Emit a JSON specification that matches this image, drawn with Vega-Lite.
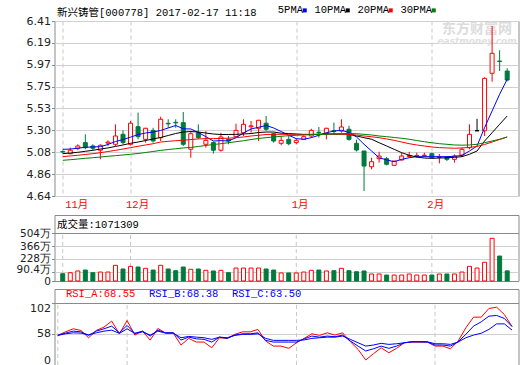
{
  "$schema": "https://vega.github.io/schema/vega-lite/v6.json",
  "background": "white",
  "padding": {"left": 15.5, "top": 4, "right": 0, "bottom": 0},
  "datasets": {
    "mo": [{"i": 0, "m": "11月"}, {"i": 9, "m": "12月"}, {"i": 31, "m": "1月"}, {"i": 49, "m": "2月"}],
    "k": [
      {"i":0,"d":"2016-11-18","o":5.09,"h":5.10,"l":5.07,"c":5.085,"v":77,"m5":5.112,"m10":5.068,"m20":5.038,"m30":5.001,"ra":56.0,"rb":56.0,"rc":56.0},
      {"i":1,"d":"2016-11-21","o":5.068,"h":5.129,"l":5.062,"c":5.103,"v":88,"m5":5.115,"m10":5.075,"m20":5.045,"m30":5.007,"ra":61.0,"rb":59.2,"rc":58.2},
      {"i":2,"d":"2016-11-22","o":5.123,"h":5.163,"l":5.103,"c":5.146,"v":106,"m5":5.123,"m10":5.082,"m20":5.052,"m30":5.014,"ra":65.3,"rb":62.0,"rc":59.6},
      {"i":3,"d":"2016-11-23","o":5.18,"h":5.264,"l":5.113,"c":5.129,"v":116,"m5":5.133,"m10":5.092,"m20":5.06,"m30":5.021,"ra":63.0,"rb":61.0,"rc":59.2},
      {"i":4,"d":"2016-11-24","o":5.146,"h":5.163,"l":5.103,"c":5.123,"v":88,"m5":5.136,"m10":5.102,"m20":5.068,"m30":5.027,"ra":52.6,"rb":56.0,"rc":56.8},
      {"i":5,"d":"2016-11-25","o":5.103,"h":5.163,"l":5.011,"c":5.153,"v":95,"m5":5.139,"m10":5.115,"m20":5.078,"m30":5.034,"ra":63.0,"rb":62.0,"rc":59.6},
      {"i":6,"d":"2016-11-28","o":5.175,"h":5.203,"l":5.146,"c":5.185,"v":95,"m5":5.161,"m10":5.126,"m20":5.09,"m30":5.042,"ra":67.7,"rb":65.3,"rc":62.0},
      {"i":7,"d":"2016-11-29","o":5.163,"h":5.365,"l":5.146,"c":5.247,"v":166,"m5":5.191,"m10":5.141,"m20":5.102,"m30":5.048,"ra":76.2,"rb":69.1,"rc":63.4},
      {"i":8,"d":"2016-11-30","o":5.264,"h":5.304,"l":5.163,"c":5.18,"v":127,"m5":5.211,"m10":5.156,"m20":5.115,"m30":5.055,"ra":58.2,"rb":59.6,"rc":58.8},
      {"i":9,"d":"2016-12-01","o":5.163,"h":5.399,"l":5.15,"c":5.376,"v":155,"m5":5.235,"m10":5.173,"m20":5.129,"m30":5.062,"ra":77.1,"rb":70.1,"rc":65.3},
      {"i":10,"d":"2016-12-02","o":5.341,"h":5.483,"l":5.213,"c":5.24,"v":148,"m5":5.262,"m10":5.186,"m20":5.143,"m30":5.07,"ra":56.4,"rb":58.8,"rc":58.8},
      {"i":11,"d":"2016-12-05","o":5.213,"h":5.33,"l":5.18,"c":5.325,"v":134,"m5":5.277,"m10":5.201,"m20":5.156,"m30":5.08,"ra":62.0,"rb":62.0,"rc":61.0},
      {"i":12,"d":"2016-12-06","o":5.304,"h":5.33,"l":5.18,"c":5.196,"v":116,"m5":5.287,"m10":5.217,"m20":5.169,"m30":5.09,"ra":49.3,"rb":55.0,"rc":56.4},
      {"i":13,"d":"2016-12-07","o":5.23,"h":5.442,"l":5.196,"c":5.416,"v":166,"m5":5.303,"m10":5.232,"m20":5.186,"m30":5.101,"ra":65.8,"rb":63.4,"rc":62.0},
      {"i":14,"d":"2016-12-08","o":5.375,"h":5.416,"l":5.33,"c":5.37,"v":127,"m5":5.328,"m10":5.252,"m20":5.193,"m30":5.11,"ra":59.2,"rb":59.6,"rc":59.2},
      {"i":15,"d":"2016-12-09","o":5.385,"h":5.416,"l":5.33,"c":5.38,"v":109,"m5":5.353,"m10":5.272,"m20":5.199,"m30":5.118,"ra":59.2,"rb":59.6,"rc":59.2},
      {"i":16,"d":"2016-12-12","o":5.382,"h":5.49,"l":5.146,"c":5.163,"v":148,"m5":5.32,"m10":5.287,"m20":5.204,"m30":5.126,"ra":42.3,"rb":49.3,"rc":52.6},
      {"i":17,"d":"2016-12-13","o":5.113,"h":5.297,"l":5.027,"c":5.27,"v":124,"m5":5.318,"m10":5.292,"m20":5.211,"m30":5.131,"ra":51.7,"rb":53.5,"rc":54.5},
      {"i":18,"d":"2016-12-14","o":5.28,"h":5.365,"l":5.216,"c":5.23,"v":127,"m5":5.282,"m10":5.287,"m20":5.217,"m30":5.141,"ra":46.5,"rb":51.1,"rc":53.5},
      {"i":19,"d":"2016-12-15","o":5.163,"h":5.297,"l":5.129,"c":5.203,"v":113,"m5":5.24,"m10":5.277,"m20":5.22,"m30":5.151,"ra":46.5,"rb":50.3,"rc":52.6},
      {"i":20,"d":"2016-12-16","o":5.18,"h":5.19,"l":5.068,"c":5.103,"v":106,"m5":5.196,"m10":5.267,"m20":5.22,"m30":5.161,"ra":38.4,"rb":46.5,"rc":50.3},
      {"i":21,"d":"2016-12-19","o":5.103,"h":5.28,"l":5.088,"c":5.237,"v":113,"m5":5.2,"m10":5.262,"m20":5.222,"m30":5.169,"ra":52.6,"rb":53.5,"rc":53.5},
      {"i":22,"d":"2016-12-20","o":5.213,"h":5.247,"l":5.163,"c":5.196,"v":88,"m5":5.196,"m10":5.262,"m20":5.225,"m30":5.179,"ra":51.7,"rb":51.7,"rc":52.6},
      {"i":23,"d":"2016-12-21","o":5.24,"h":5.371,"l":5.23,"c":5.304,"v":137,"m5":5.23,"m10":5.264,"m20":5.23,"m30":5.189,"ra":57.4,"rb":56.4,"rc":56.0},
      {"i":24,"d":"2016-12-22","o":5.28,"h":5.416,"l":5.247,"c":5.365,"v":137,"m5":5.277,"m10":5.267,"m20":5.237,"m30":5.199,"ra":61.0,"rb":58.2,"rc":57.4},
      {"i":25,"d":"2016-12-23","o":5.34,"h":5.399,"l":5.28,"c":5.35,"v":137,"m5":5.318,"m10":5.272,"m20":5.247,"m30":5.211,"ra":61.0,"rb":58.2,"rc":57.4},
      {"i":26,"d":"2016-12-26","o":5.325,"h":5.41,"l":5.196,"c":5.406,"v":137,"m5":5.335,"m10":5.282,"m20":5.254,"m30":5.222,"ra":64.4,"rb":59.6,"rc":58.2},
      {"i":27,"d":"2016-12-27","o":5.376,"h":5.449,"l":5.30,"c":5.315,"v":127,"m5":5.353,"m10":5.287,"m20":5.262,"m30":5.23,"ra":47.9,"rb":48.9,"rc":51.7},
      {"i":28,"d":"2016-12-28","o":5.27,"h":5.28,"l":5.18,"c":5.196,"v":116,"m5":5.328,"m10":5.287,"m20":5.264,"m30":5.237,"ra":40.8,"rb":46.5,"rc":48.9},
      {"i":29,"d":"2016-12-29","o":5.173,"h":5.247,"l":5.153,"c":5.203,"v":85,"m5":5.292,"m10":5.275,"m20":5.264,"m30":5.244,"ra":40.8,"rb":46.5,"rc":48.9},
      {"i":30,"d":"2016-12-30","o":5.213,"h":5.247,"l":5.153,"c":5.169,"v":85,"m5":5.254,"m10":5.272,"m20":5.264,"m30":5.25,"ra":37.6,"rb":46.5,"rc":48.9},
      {"i":31,"d":"2017-01-03","o":5.18,"h":5.223,"l":5.163,"c":5.203,"v":85,"m5":5.22,"m10":5.267,"m20":5.264,"m30":5.254,"ra":45.5,"rb":46.5,"rc":48.9},
      {"i":32,"d":"2017-01-04","o":5.213,"h":5.254,"l":5.206,"c":5.24,"v":95,"m5":5.214,"m10":5.262,"m20":5.264,"m30":5.257,"ra":51.7,"rb":51.0,"rc":49.5},
      {"i":33,"d":"2017-01-05","o":5.247,"h":5.32,"l":5.23,"c":5.304,"v":113,"m5":5.23,"m10":5.262,"m20":5.264,"m30":5.26,"ra":58.2,"rb":55.0,"rc":51.7},
      {"i":34,"d":"2017-01-06","o":5.285,"h":5.338,"l":5.23,"c":5.28,"v":116,"m5":5.254,"m10":5.264,"m20":5.264,"m30":5.262,"ra":56.0,"rb":53.5,"rc":52.6},
      {"i":35,"d":"2017-01-09","o":5.274,"h":5.33,"l":5.213,"c":5.325,"v":106,"m5":5.28,"m10":5.267,"m20":5.264,"m30":5.264,"ra":59.6,"rb":55.0,"rc":53.5},
      {"i":36,"d":"2017-01-10","o":5.30,"h":5.382,"l":5.264,"c":5.295,"v":109,"m5":5.297,"m10":5.267,"m20":5.264,"m30":5.267,"ra":56.4,"rb":54.0,"rc":53.5},
      {"i":37,"d":"2017-01-11","o":5.297,"h":5.416,"l":5.28,"c":5.338,"v":134,"m5":5.305,"m10":5.267,"m20":5.264,"m30":5.269,"ra":59.6,"rb":56.4,"rc":55.0},
      {"i":38,"d":"2017-01-12","o":5.315,"h":5.35,"l":5.20,"c":5.213,"v":109,"m5":5.282,"m10":5.264,"m20":5.262,"m30":5.272,"ra":46.9,"rb":47.9,"rc":50.3},
      {"i":39,"d":"2017-01-13","o":5.173,"h":5.21,"l":5.09,"c":5.105,"v":98,"m5":5.237,"m10":5.247,"m20":5.257,"m30":5.27,"ra":36.2,"rb":40.8,"rc":45.5},
      {"i":40,"d":"2017-01-16","o":5.095,"h":5.095,"l":4.691,"c":4.943,"v":106,"m5":5.163,"m10":5.23,"m20":5.247,"m30":5.264,"ra":21.1,"rb":33.8,"rc":40.8},
      {"i":41,"d":"2017-01-17","o":4.936,"h":5.027,"l":4.91,"c":4.987,"v":74,"m5":5.095,"m10":5.214,"m20":5.239,"m30":5.257,"ra":30.0,"rb":37.0,"rc":42.3},
      {"i":42,"d":"2017-01-18","o":5.017,"h":5.088,"l":4.977,"c":5.044,"v":74,"m5":5.027,"m10":5.179,"m20":5.23,"m30":5.247,"ra":38.4,"rb":40.8,"rc":44.7},
      {"i":43,"d":"2017-01-19","o":5.017,"h":5.034,"l":4.95,"c":4.961,"v":63,"m5":5.005,"m10":5.146,"m20":5.217,"m30":5.24,"ra":31.4,"rb":37.6,"rc":43.2},
      {"i":44,"d":"2017-01-20","o":4.95,"h":4.994,"l":4.943,"c":4.994,"v":63,"m5":4.987,"m10":5.112,"m20":5.203,"m30":5.232,"ra":37.6,"rb":40.8,"rc":44.1},
      {"i":45,"d":"2017-01-23","o":5.004,"h":5.078,"l":5.0,"c":5.044,"v":63,"m5":5.011,"m10":5.078,"m20":5.186,"m30":5.224,"ra":45.5,"rb":45.5,"rc":45.5},
      {"i":46,"d":"2017-01-24","o":5.04,"h":5.088,"l":5.027,"c":5.05,"v":74,"m5":5.027,"m10":5.052,"m20":5.169,"m30":5.214,"ra":46.5,"rb":46.9,"rc":46.9},
      {"i":47,"d":"2017-01-25","o":5.045,"h":5.078,"l":5.027,"c":5.05,"v":63,"m5":5.038,"m10":5.034,"m20":5.156,"m30":5.201,"ra":46.5,"rb":46.9,"rc":46.9},
      {"i":48,"d":"2017-01-26","o":5.048,"h":5.078,"l":5.034,"c":5.053,"v":63,"m5":5.038,"m10":5.024,"m20":5.146,"m30":5.189,"ra":46.5,"rb":46.5,"rc":46.9},
      {"i":49,"d":"2017-02-03","o":5.068,"h":5.078,"l":5.027,"c":5.027,"v":63,"m5":5.038,"m10":5.021,"m20":5.136,"m30":5.179,"ra":40.8,"rb":42.3,"rc":44.1},
      {"i":50,"d":"2017-02-06","o":5.03,"h":5.065,"l":4.97,"c":5.035,"v":74,"m5":5.038,"m10":5.024,"m20":5.129,"m30":5.169,"ra":40.8,"rb":42.3,"rc":44.1},
      {"i":51,"d":"2017-02-07","o":5.034,"h":5.044,"l":4.994,"c":5.011,"v":74,"m5":5.038,"m10":5.027,"m20":5.126,"m30":5.163,"ra":37.0,"rb":40.8,"rc":43.2},
      {"i":52,"d":"2017-02-08","o":5.011,"h":5.061,"l":4.977,"c":5.044,"v":74,"m5":5.042,"m10":5.031,"m20":5.123,"m30":5.156,"ra":47.9,"rb":46.9,"rc":46.5},
      {"i":53,"d":"2017-02-09","o":5.054,"h":5.129,"l":5.034,"c":5.112,"v":95,"m5":5.05,"m10":5.038,"m20":5.126,"m30":5.154,"ra":66.7,"rb":57.4,"rc":52.6},
      {"i":54,"d":"2017-02-10","o":5.129,"h":5.365,"l":5.113,"c":5.264,"v":155,"m5":5.095,"m10":5.062,"m20":5.131,"m30":5.156,"ra":81.8,"rb":69.1,"rc":56.4},
      {"i":55,"d":"2017-02-13","o":5.30,"h":5.42,"l":5.30,"c":5.30,"v":137,"m5":5.146,"m10":5.095,"m20":5.141,"m30":5.163,"ra":81.8,"rb":75.2,"rc":59.0},
      {"i":56,"d":"2017-02-14","o":5.30,"h":5.84,"l":5.247,"c":5.83,"v":198,"m5":5.331,"m10":5.196,"m20":5.161,"m30":5.179,"ra":94.1,"rb":83.2,"rc":64.4},
      {"i":57,"d":"2017-02-15","o":5.881,"h":6.359,"l":5.796,"c":6.083,"v":451,"m5":5.5,"m10":5.28,"m20":5.186,"m30":5.196,"ra":95.9,"rb":84.2,"rc":72.3},
      {"i":58,"d":"2017-02-16","o":6.005,"h":6.114,"l":5.904,"c":6.0,"v":264,"m5":5.669,"m10":5.365,"m20":5.211,"m30":5.214,"ra":85.6,"rb":80.0,"rc":72.3},
      {"i":59,"d":"2017-02-17","o":5.904,"h":5.932,"l":5.80,"c":5.813,"v":107.13,"m5":5.82,"m10":5.449,"m20":5.237,"m30":5.237,"ra":68.55,"rb":68.38,"rc":63.5}
    ]
  },
  "config": {
    "view": {"stroke": "#8a8a8a", "strokeWidth": 1},
    "axis": {"labelFont": "DejaVu Sans", "labelFontSize": 11, "labelColor": "#222222", "domain": false, "tickColor": "#8a8a8a", "tickSize": 3, "labelPadding": 1,
      "titleFont": "Liberation Mono, Noto Sans CJK SC", "titleFontSize": 10.5, "titleFontWeight": "normal", "titleColor": "#000000"}
  },
  "spacing": 19,
  "bounds": "flush",
  "resolve": {"scale": {"color": "independent"}, "legend": {"color": "independent"}},
  "vconcat": [
    {
      "width": 464,
      "height": 175,
      "data": {"name": "k"},
      "layer": [
        {
          "data": {"values": [{"t": "东方财富网", "u": "eastmoney.com"}]},
          "mark": {"type": "text", "font": "Noto Sans CJK SC", "fontSize": 14, "fontWeight": "bold", "color": "#dcdcdc", "align": "center", "baseline": "middle"},
          "encoding": {
            "x": {"datum": 55.0, "type": "quantitative", "scale": {"domain": [-0.43, 59.84], "nice": false, "zero": false}},
            "y": {"datum": 6.33, "type": "quantitative", "scale": {"domain": [4.64, 6.41], "nice": false, "zero": false}},
            "text": {"field": "t"}
          }
        },
        {
          "data": {"values": [{"t": "东方财富网", "u": "eastmoney.com"}]},
          "mark": {"type": "text", "font": "DejaVu Sans", "fontSize": 9, "fontWeight": "bold", "fontStyle": "italic", "color": "#e0e0e0", "align": "center", "baseline": "middle"},
          "encoding": {
            "x": {"datum": 55.0, "type": "quantitative", "scale": {"domain": [-0.43, 59.84], "nice": false, "zero": false}},
            "y": {"datum": 6.205, "type": "quantitative", "scale": {"domain": [4.64, 6.41], "nice": false, "zero": false}},
            "text": {"field": "u"}
          }
        },
        {
          "mark": {"type": "rule", "strokeWidth": 1},
          "encoding": {
            "x": {"field": "i", "type": "quantitative", "scale": {"domain": [-0.43, 59.84], "nice": false, "zero": false},
              "axis": {"title": null, "values": [0, 9, 31, 49], "tickCount": 20, "labelExpr": "datum.value == 0 ? '11月' : datum.value == 9 ? '12月' : datum.value == 31 ? '1月' : '2月'",
                "labelColor": "#ff0000", "labelFont": "Liberation Mono, Noto Sans CJK SC", "labelFontSize": 10.5, "labelAlign": "left",
                "labelOffset": {"condition": {"test": "datum.value == 0", "value": 2}, "value": -5}, "labelBaseline": "top", "labelPadding": 3,
                "labelFlush": false, "labelOverlap": false,
                "ticks": false, "grid": true, "gridDash": [4, 3], "gridColor": "#c8c8c8"}},
            "y": {"field": "l", "type": "quantitative", "scale": {"domain": [4.64, 6.41], "nice": false, "zero": false},
              "axis": {"values": [4.64, 4.86125, 5.0825, 5.30375, 5.5251, 5.74625, 5.9675, 6.18875, 6.41], "tickCount": 20, "format": ".2f", "grid": true, "gridColor": "#d0d0d0",
                "labelOverlap": false, "labelFlush": false,
                "title": "新兴铸管[000778] 2017-02-17 11:18", "titleAngle": 0, "titleX": 2, "titleY": -6, "titleAlign": "left", "titleBaseline": "alphabetic"}},
            "y2": {"field": "h"},
            "color": {"condition": [{"test": "datum.c > datum.o", "value": "#ff0000"}, {"test": "datum.c < datum.o", "value": "#007a3d"}], "value": "#000000"}
          }
        },
        {
          "mark": {"type": "bar", "width": 4, "strokeWidth": 1},
          "encoding": {
            "x": {"field": "i", "type": "quantitative", "scale": {"domain": [-0.43, 59.84], "nice": false, "zero": false}},
            "y": {"field": "o", "type": "quantitative", "scale": {"domain": [4.64, 6.41], "nice": false, "zero": false}},
            "y2": {"field": "c"},
            "fill": {"condition": {"test": "datum.c < datum.o", "value": "#007a3d"}, "value": "#ffffff"},
            "stroke": {"condition": [{"test": "datum.c > datum.o", "value": "#ff0000"}, {"test": "datum.c < datum.o", "value": "#007a3d"}], "value": "#000000"}
          }
        },
        {
          "transform": [{"fold": ["m5", "m10", "m20", "m30"], "as": ["ma", "val"]}],
          "mark": {"type": "line", "strokeWidth": 1},
          "encoding": {
            "x": {"field": "i", "type": "quantitative", "scale": {"domain": [-0.43, 59.84], "nice": false, "zero": false}},
            "y": {"field": "val", "type": "quantitative", "scale": {"domain": [4.64, 6.41], "nice": false, "zero": false}},
            "color": {"field": "ma", "type": "nominal",
              "scale": {"domain": ["m5", "m10", "m20", "m30"], "range": ["#0000ff", "#000000", "#ff0000", "#008000"]},
              "legend": {"orient": "none", "legendX": 245, "legendY": -16, "direction": "horizontal", "title": null, "padding": 0,
                "symbolType": "square", "symbolSize": 16, "symbolStrokeWidth": 0,
                "labelFont": "Liberation Mono", "labelFontSize": 10.5, "labelColor": "#000000", "labelAlign": "right", "labelOffset": -7, "columnPadding": 6,
                "labelExpr": "datum.value == 'm5' ? '5PMA' : datum.value == 'm10' ? '10PMA' : datum.value == 'm20' ? '20PMA' : '30PMA'",
                "encode": {"symbols": {"update": {"fill": {"signal": "datum.value == 'm5' ? '#0000ff' : datum.value == 'm10' ? '#000000' : datum.value == 'm20' ? '#ff0000' : '#008000'"}}}}}
            }
          }
        }
      ]
    },
    {
      "spacing": 8,
      "bounds": "flush",
      "resolve": {"scale": {"color": "independent"}, "legend": {"color": "independent"}},
      "vconcat": [
        {
          "width": 464,
          "height": 66,
          "layer": [
            {
              "data": {"name": "mo"},
              "mark": {"type": "rule", "strokeDash": [4, 3], "color": "#c8c8c8", "strokeWidth": 1},
              "encoding": {
                "x": {"field": "i", "type": "quantitative", "scale": {"domain": [-0.43, 59.84], "nice": false, "zero": false}, "axis": null},
                "y": {"datum": 0, "type": "quantitative", "scale": {"domain": [0, 697.9], "nice": false}},
                "y2": {"datum": 504.4}
              }
            },
            {
              "data": {"name": "k"},
              "mark": {"type": "bar", "width": 4, "strokeWidth": 1},
              "encoding": {
                "x": {"field": "i", "type": "quantitative", "scale": {"domain": [-0.43, 59.84], "nice": false, "zero": false}, "axis": null},
                "y": {"field": "v", "type": "quantitative", "scale": {"domain": [0, 697.9], "nice": false},
                  "axis": {"values": [0, 90.4, 228.4, 366.4, 504.4], "tickCount": 20,
                    "labelExpr": "datum.value == 0 ? '0' : datum.value == 90.4 ? '90.4万' : datum.value == 228.4 ? '228万' : datum.value == 366.4 ? '366万' : '504万'",
                    "labelOverlap": false, "labelFlush": false, "labelFontSize": 10.5,
                    "labelOffset": {"condition": [{"test": "datum.value == 90.4", "value": -2.5}, {"test": "datum.value == 228.4", "value": -1.2}], "value": 0},
                    "grid": true,
                    "gridColor": {"condition": {"test": "datum.value == 504.4", "value": "#8a8a8a"}, "value": "#d0d0d0"},
                    "gridOpacity": {"condition": {"test": "datum.value == 0", "value": 0}, "value": 1},
                    "title": "成交量:1071309", "titleAngle": 0, "titleX": 2, "titleY": 12, "titleAlign": "left", "titleBaseline": "alphabetic"}},
                "fill": {"condition": {"test": "datum.c < datum.o", "value": "#007a3d"}, "value": "#ffffff"},
                "stroke": {"condition": {"test": "datum.c < datum.o", "value": "#007a3d"}, "value": "#ff0000"}
              }
            }
          ]
        },
        {
          "width": 464,
          "height": 76,
          "layer": [
            {
              "data": {"name": "mo"},
              "mark": {"type": "rule", "strokeDash": [4, 3], "color": "#c8c8c8", "strokeWidth": 1},
              "encoding": {
                "x": {"field": "i", "type": "quantitative", "scale": {"domain": [-0.43, 59.84], "nice": false, "zero": false}, "axis": null},
                "y": {"datum": 14, "type": "quantitative", "scale": {"domain": [14, 121.7], "nice": false, "zero": false}},
                "y2": {"datum": 102}
              }
            },
            {
              "data": {"name": "k"},
              "transform": [{"fold": ["ra", "rb", "rc"], "as": ["rsi", "val"]}],
              "mark": {"type": "line", "strokeWidth": 1},
              "encoding": {
                "x": {"field": "i", "type": "quantitative", "scale": {"domain": [-0.43, 59.84], "nice": false, "zero": false}, "axis": null},
                "y": {"field": "val", "type": "quantitative", "scale": {"domain": [14, 121.7], "nice": false, "zero": false},
                  "axis": {"title": null, "values": [14, 58, 102], "tickCount": 20, "labelExpr": "datum.value == 14 ? '0' : datum.label",
                    "labelOverlap": false, "labelFlush": false,
                    "labelBaseline": {"condition": [{"test": "datum.value == 14", "value": "bottom"}, {"test": "datum.value == 102", "value": "top"}], "value": "middle"},
                    "grid": true,
                    "gridColor": {"condition": {"test": "datum.value == 102", "value": "#8a8a8a"}, "value": "#d0d0d0"},
                    "gridOpacity": {"condition": {"test": "datum.value == 14", "value": 0}, "value": 1}}},
                "color": {"field": "rsi", "type": "nominal",
                  "scale": {"domain": ["ra", "rb", "rc"], "range": ["#ff0000", "#0000ff", "#0000ff"]},
                  "legend": {"orient": "none", "legendX": 1, "legendY": 0, "direction": "horizontal", "title": null, "padding": 0,
                    "symbolSize": 0, "symbolOpacity": 0, "symbolStrokeWidth": 0, "labelOffset": 0, "columnPadding": 3,
                    "labelFont": "Liberation Mono", "labelFontSize": 10.5,
                    "labelExpr": "datum.value == 'ra' ? 'RSI_A:68.55' : datum.value == 'rb' ? 'RSI_B:68.38' : 'RSI_C:63.50'",
                    "encode": {"labels": {"update": {"fill": {"signal": "datum.value == 'ra' ? '#ff0000' : '#0000ff'"}}}}}
                }
              }
            }
          ]
        }
      ]
    }
  ]
}
